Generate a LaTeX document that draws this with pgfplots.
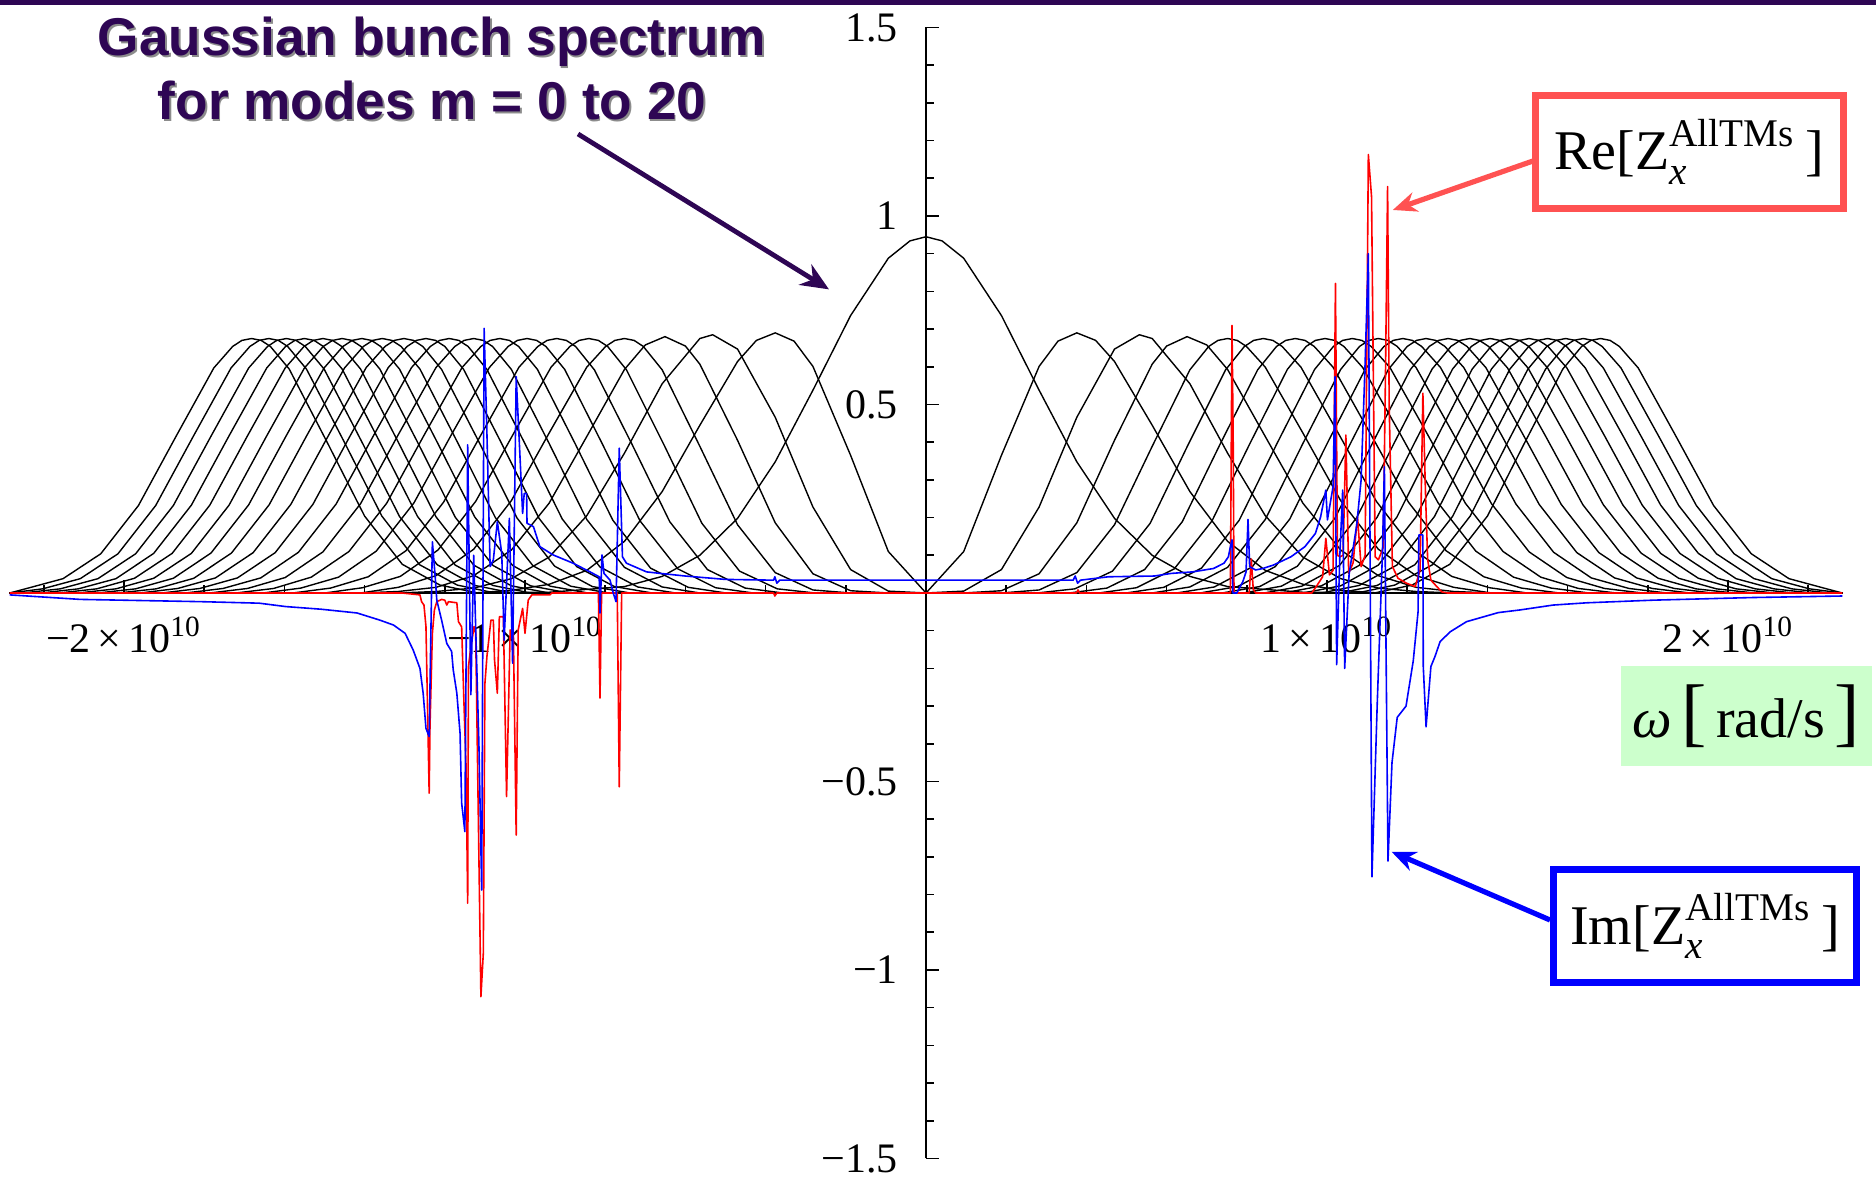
\documentclass[border=0pt]{standalone}
\usepackage{amsmath}
\usepackage{fontspec}
\setmainfont{Liberation Serif}
\newfontfamily\sansfam{Liberation Sans}
\usepackage{pgfplots}
\pgfplotsset{compat=1.18}
\usetikzlibrary{arrows.meta}
\definecolor{titlepurple}{RGB}{46,6,84}
\definecolor{boxred}{RGB}{255,82,82}
\definecolor{labelgreen}{RGB}{204,255,204}
\pgfplotsset{blk/.style={black, line width=0.35pt},
  rd/.style={color={rgb,255:red,255;green,0;blue,0}, line width=0.4pt},
  bl/.style={color={rgb,255:red,0;green,0;blue,255}, line width=0.4pt}}
\begin{document}
\begin{tikzpicture}
\path[use as bounding box] (0,0) rectangle (469pt,294.25pt);
\fill[titlepurple] (0,293.05pt) rectangle (469pt,294.25pt);
\begin{axis}[
  at={(2.43pt,4.625pt)}, anchor=south west,
  scale only axis, width=458.15pt, height=282.75pt,
  xmin=-2.285, xmax=2.285, ymin=-1.5, ymax=1.5,
  axis lines=middle, axis line style={-, line width=0.4pt},
  tick align=inside, major tick length=3.3pt, minor tick length=2pt,
  every tick/.style={black, line width=0.4pt},
  xtick={-2,-1,1,2},
  xticklabels={−2\,×\,10\textsuperscript{10}, −1\,×\,10\textsuperscript{10}, 1\,×\,10\textsuperscript{10}, 2\,×\,10\textsuperscript{10}},
  minor xtick={-2.2,-2.0,...,2.2},
  ytick={-1.5,-1,-0.5,0.5,1,1.5},
  yticklabels={−1.5,−1,−0.5,0.5,1,1.5},
  minor ytick={-1.4,-1.3,...,1.4},
  tick label style={font=\fontsize{10.5}{12}\selectfont},
  xticklabel style={anchor=north, yshift=-2.5pt},
  yticklabel style={anchor=east, xshift=-3.5pt},
  every axis plot/.append style={line join=round},
]
% mode 0
\addplot[blk] coordinates {(-2.285,0) (-1.128,0) (-0.940,.002) (-0.752,.017) (-0.658,.044) (-0.564,.100) (-0.470,.198) (-0.376,.348) (-0.282,.538) (-0.188,.736) (-0.094,.888) (-0.040,.934) (0,.945) (0.040,.934) (0.094,.888) (0.188,.736) (0.282,.538) (0.376,.348) (0.470,.198) (0.564,.100) (0.658,.044) (0.752,.017) (0.940,.002) (1.128,0) (2.285,0)};
% mode 1
\addplot[blk] coordinates {(-2.285,0) (-1.128,0) (-1.034,.007) (-0.940,.023) (-0.846,.060) (-0.752,.137) (-0.658,.269) (-0.564,.445) (-0.470,.614) (-0.423,.670) (-0.376,.690) (-0.329,.668) (-0.282,.601) (-0.188,.365) (-0.094,.110) (0,0) (0.094,.110) (0.188,.365) (0.282,.601) (0.329,.668) (0.376,.690) (0.423,.670) (0.470,.614) (0.564,.445) (0.658,.269) (0.752,.137) (0.846,.060) (0.940,.023) (1.034,.007) (1.128,0) (2.285,0)};
% mode 2
\addplot[blk] coordinates {(-2.285,0) (-1.316,0) (-1.222,.004) (-1.128,.013) (-1.034,.038) (-0.940,.095) (-0.846,.205) (-0.752,.371) (-0.658,.555) (-0.564,.675) (-0.532,.685) (-0.470,.647) (-0.376,.466) (-0.282,.228) (-0.188,.062) (-0.094,.005) (0,0) (0.094,.005) (0.188,.062) (0.282,.228) (0.376,.466) (0.470,.647) (0.532,.685) (0.564,.675) (0.658,.555) (0.752,.371) (0.846,.205) (0.940,.095) (1.034,.038) (1.128,.013) (1.222,.004) (1.316,0) (2.285,0)};
% mode 3
\addplot[blk] coordinates {(-2.285,0) (-1.410,0) (-1.316,.004) (-1.222,.015) (-1.128,.046) (-1.034,.114) (-0.940,.238) (-0.846,.415) (-0.752,.593) (-0.700,.658) (-0.651,.680) (-0.600,.655) (-0.564,.607) (-0.470,.405) (-0.376,.186) (-0.282,.051) (-0.188,.006) (-0.094,0) (0.094,0) (0.188,.006) (0.282,.051) (0.376,.186) (0.470,.405) (0.564,.607) (0.600,.655) (0.651,.680) (0.700,.658) (0.752,.593) (0.846,.415) (0.940,.238) (1.034,.114) (1.128,.046) (1.222,.015) (1.316,.004) (1.410,0) (2.285,0)};
% mode 4
\addplot[blk] coordinates {(-2.285,0) (-1.410,0) (-1.316,.015) (-1.222,.046) (-1.128,.116) (-1.034,.245) (-0.940,.424) (-0.846,.599) (-0.799,.654) (-0.776,.670) (-0.752,.675) (-0.728,.670) (-0.705,.654) (-0.658,.592) (-0.564,.389) (-0.470,.181) (-0.376,.054) (-0.282,.008) (-0.188,0) (0.188,0) (0.282,.008) (0.376,.054) (0.470,.181) (0.564,.389) (0.658,.592) (0.705,.654) (0.728,.670) (0.752,.675) (0.776,.670) (0.799,.654) (0.846,.599) (0.940,.424) (1.034,.245) (1.128,.116) (1.222,.046) (1.316,.015) (1.410,0) (2.285,0)};
% mode 5
\addplot[blk] coordinates {(-2.285,0) (-1.499,0) (-1.405,.014) (-1.311,.044) (-1.217,.114) (-1.123,.243) (-1.029,.422) (-0.935,.599) (-0.888,.654) (-0.865,.670) (-0.841,.675) (-0.817,.670) (-0.794,.654) (-0.747,.592) (-0.653,.392) (-0.559,.185) (-0.465,.058) (-0.371,.011) (-0.277,0) (0.277,0) (0.371,.011) (0.465,.058) (0.559,.185) (0.653,.392) (0.747,.592) (0.794,.654) (0.817,.670) (0.841,.675) (0.865,.670) (0.888,.654) (0.935,.599) (1.029,.422) (1.123,.243) (1.217,.114) (1.311,.044) (1.405,.014) (1.499,0) (2.285,0)};
% mode 6
\addplot[blk] coordinates {(-2.285,0) (-1.579,0) (-1.485,.013) (-1.391,.043) (-1.297,.112) (-1.203,.241) (-1.109,.421) (-1.015,.599) (-0.968,.654) (-0.945,.670) (-0.921,.675) (-0.897,.670) (-0.874,.654) (-0.827,.592) (-0.733,.394) (-0.639,.189) (-0.545,.062) (-0.451,.013) (-0.357,0) (0.357,0) (0.451,.013) (0.545,.062) (0.639,.189) (0.733,.394) (0.827,.592) (0.874,.654) (0.897,.670) (0.921,.675) (0.945,.670) (0.968,.654) (1.015,.599) (1.109,.421) (1.203,.241) (1.297,.112) (1.391,.043) (1.485,.013) (1.579,0) (2.285,0)};
% mode 7
\addplot[blk] coordinates {(-2.285,0) (-1.653,0) (-1.559,.013) (-1.465,.042) (-1.371,.111) (-1.277,.239) (-1.183,.421) (-1.089,.598) (-1.042,.654) (-1.019,.670) (-0.995,.675) (-0.971,.670) (-0.948,.654) (-0.901,.593) (-0.807,.395) (-0.713,.191) (-0.619,.064) (-0.525,.014) (-0.431,0) (0.431,0) (0.525,.014) (0.619,.064) (0.713,.191) (0.807,.395) (0.901,.593) (0.948,.654) (0.971,.670) (0.995,.675) (1.019,.670) (1.042,.654) (1.089,.598) (1.183,.421) (1.277,.239) (1.371,.111) (1.465,.042) (1.559,.013) (1.653,0) (2.285,0)};
% mode 8
\addplot[blk] coordinates {(-2.285,0) (-1.721,0) (-1.627,.012) (-1.533,.042) (-1.439,.110) (-1.345,.238) (-1.251,.420) (-1.157,.598) (-1.110,.654) (-1.087,.670) (-1.063,.675) (-1.039,.670) (-1.016,.654) (-0.969,.593) (-0.875,.396) (-0.781,.193) (-0.687,.066) (-0.593,.015) (-0.499,0) (0.499,0) (0.593,.015) (0.687,.066) (0.781,.193) (0.875,.396) (0.969,.593) (1.016,.654) (1.039,.670) (1.063,.675) (1.087,.670) (1.110,.654) (1.157,.598) (1.251,.420) (1.345,.238) (1.439,.110) (1.533,.042) (1.627,.012) (1.721,0) (2.285,0)};
% mode 9
\addplot[blk] coordinates {(-2.285,0) (-1.786,0) (-1.692,.012) (-1.598,.041) (-1.504,.109) (-1.410,.237) (-1.316,.420) (-1.222,.598) (-1.175,.654) (-1.152,.670) (-1.128,.675) (-1.104,.670) (-1.081,.654) (-1.034,.593) (-0.940,.397) (-0.846,.195) (-0.752,.068) (-0.658,.016) (-0.564,0) (0.564,0) (0.658,.016) (0.752,.068) (0.846,.195) (0.940,.397) (1.034,.593) (1.081,.654) (1.104,.670) (1.128,.675) (1.152,.670) (1.175,.654) (1.222,.598) (1.316,.420) (1.410,.237) (1.504,.109) (1.598,.041) (1.692,.012) (1.786,0) (2.285,0)};
% mode 10
\addplot[blk] coordinates {(-2.285,0) (-1.847,0) (-1.753,.012) (-1.659,.040) (-1.565,.108) (-1.471,.236) (-1.377,.419) (-1.283,.598) (-1.236,.654) (-1.213,.670) (-1.189,.675) (-1.165,.670) (-1.142,.654) (-1.095,.593) (-1.001,.398) (-0.907,.196) (-0.813,.069) (-0.719,.016) (-0.625,0) (0.625,0) (0.719,.016) (0.813,.069) (0.907,.196) (1.001,.398) (1.095,.593) (1.142,.654) (1.165,.670) (1.189,.675) (1.213,.670) (1.236,.654) (1.283,.598) (1.377,.419) (1.471,.236) (1.565,.108) (1.659,.040) (1.753,.012) (1.847,0) (2.285,0)};
% mode 11
\addplot[blk] coordinates {(-2.285,0) (-1.905,0) (-1.811,.012) (-1.717,.040) (-1.623,.107) (-1.529,.235) (-1.435,.419) (-1.341,.598) (-1.294,.654) (-1.271,.670) (-1.247,.675) (-1.223,.670) (-1.200,.654) (-1.153,.593) (-1.059,.398) (-0.965,.198) (-0.871,.070) (-0.777,.017) (-0.683,0) (0.683,0) (0.777,.017) (0.871,.070) (0.965,.198) (1.059,.398) (1.153,.593) (1.200,.654) (1.223,.670) (1.247,.675) (1.271,.670) (1.294,.654) (1.341,.598) (1.435,.419) (1.529,.235) (1.623,.107) (1.717,.040) (1.811,.012) (1.905,0) (2.285,0)};
% mode 12
\addplot[blk] coordinates {(-2.285,0) (-1.960,0) (-1.866,.012) (-1.772,.040) (-1.678,.107) (-1.584,.235) (-1.490,.418) (-1.396,.598) (-1.349,.654) (-1.326,.670) (-1.302,.675) (-1.278,.670) (-1.255,.654) (-1.208,.593) (-1.114,.399) (-1.020,.199) (-0.926,.071) (-0.832,.017) (-0.738,0) (0.738,0) (0.832,.017) (0.926,.071) (1.020,.199) (1.114,.399) (1.208,.593) (1.255,.654) (1.278,.670) (1.302,.675) (1.326,.670) (1.349,.654) (1.396,.598) (1.490,.418) (1.584,.235) (1.678,.107) (1.772,.040) (1.866,.012) (1.960,0) (2.285,0)};
% mode 13
\addplot[blk] coordinates {(-2.285,0) (-2.014,0) (-1.920,.011) (-1.826,.039) (-1.732,.106) (-1.638,.234) (-1.544,.418) (-1.450,.597) (-1.403,.654) (-1.380,.670) (-1.356,.675) (-1.332,.670) (-1.309,.654) (-1.262,.594) (-1.168,.399) (-1.074,.200) (-0.980,.072) (-0.886,.018) (-0.792,0) (0.792,0) (0.886,.018) (0.980,.072) (1.074,.200) (1.168,.399) (1.262,.594) (1.309,.654) (1.332,.670) (1.356,.675) (1.380,.670) (1.403,.654) (1.450,.597) (1.544,.418) (1.638,.234) (1.732,.106) (1.826,.039) (1.920,.011) (2.014,0) (2.285,0)};
% mode 14
\addplot[blk] coordinates {(-2.285,0) (-2.065,0) (-1.971,.011) (-1.877,.039) (-1.783,.106) (-1.689,.234) (-1.595,.418) (-1.501,.597) (-1.454,.654) (-1.431,.670) (-1.407,.675) (-1.383,.670) (-1.360,.654) (-1.313,.594) (-1.219,.400) (-1.125,.201) (-1.031,.073) (-0.937,.018) (-0.843,0) (0.843,0) (0.937,.018) (1.031,.073) (1.125,.201) (1.219,.400) (1.313,.594) (1.360,.654) (1.383,.670) (1.407,.675) (1.431,.670) (1.454,.654) (1.501,.597) (1.595,.418) (1.689,.234) (1.783,.106) (1.877,.039) (1.971,.011) (2.065,0) (2.285,0)};
% mode 15
\addplot[blk] coordinates {(-2.285,0) (-2.114,0) (-2.020,.011) (-1.926,.039) (-1.832,.105) (-1.738,.233) (-1.644,.417) (-1.550,.597) (-1.503,.654) (-1.480,.670) (-1.456,.675) (-1.432,.670) (-1.409,.654) (-1.362,.594) (-1.268,.400) (-1.174,.201) (-1.080,.073) (-0.986,.019) (-0.892,0) (0.892,0) (0.986,.019) (1.080,.073) (1.174,.201) (1.268,.400) (1.362,.594) (1.409,.654) (1.432,.670) (1.456,.675) (1.480,.670) (1.503,.654) (1.550,.597) (1.644,.417) (1.738,.233) (1.832,.105) (1.926,.039) (2.020,.011) (2.114,0) (2.285,0)};
% mode 16
\addplot[blk] coordinates {(-2.285,0) (-2.162,0) (-2.068,.011) (-1.974,.039) (-1.880,.105) (-1.786,.233) (-1.692,.417) (-1.598,.597) (-1.551,.654) (-1.528,.670) (-1.504,.675) (-1.480,.670) (-1.457,.654) (-1.410,.594) (-1.316,.400) (-1.222,.202) (-1.128,.074) (-1.034,.019) (-0.940,0) (0.940,0) (1.034,.019) (1.128,.074) (1.222,.202) (1.316,.400) (1.410,.594) (1.457,.654) (1.480,.670) (1.504,.675) (1.528,.670) (1.551,.654) (1.598,.597) (1.692,.417) (1.786,.233) (1.880,.105) (1.974,.039) (2.068,.011) (2.162,0) (2.285,0)};
% mode 17
\addplot[blk] coordinates {(-2.285,0) (-2.208,0) (-2.114,.011) (-2.020,.038) (-1.926,.105) (-1.832,.233) (-1.738,.417) (-1.644,.597) (-1.597,.654) (-1.574,.670) (-1.550,.675) (-1.526,.670) (-1.503,.654) (-1.456,.594) (-1.362,.400) (-1.268,.203) (-1.174,.074) (-1.080,.020) (-0.986,0) (0.986,0) (1.080,.020) (1.174,.074) (1.268,.203) (1.362,.400) (1.456,.594) (1.503,.654) (1.526,.670) (1.550,.675) (1.574,.670) (1.597,.654) (1.644,.597) (1.738,.417) (1.832,.233) (1.926,.105) (2.020,.038) (2.114,.011) (2.208,0) (2.285,0)};
% mode 18
\addplot[blk] coordinates {(-2.285,0) (-2.253,0) (-2.159,.011) (-2.065,.038) (-1.971,.104) (-1.877,.232) (-1.783,.416) (-1.689,.597) (-1.642,.654) (-1.619,.670) (-1.595,.675) (-1.571,.670) (-1.548,.654) (-1.501,.594) (-1.407,.401) (-1.313,.203) (-1.219,.075) (-1.125,.020) (-1.031,0) (1.031,0) (1.125,.020) (1.219,.075) (1.313,.203) (1.407,.401) (1.501,.594) (1.548,.654) (1.571,.670) (1.595,.675) (1.619,.670) (1.642,.654) (1.689,.597) (1.783,.416) (1.877,.232) (1.971,.104) (2.065,.038) (2.159,.011) (2.253,0) (2.285,0)};
% mode 19
\addplot[blk] coordinates {(-2.285,0) (-2.203,.011) (-2.109,.038) (-2.015,.104) (-1.921,.232) (-1.827,.416) (-1.733,.597) (-1.686,.654) (-1.663,.670) (-1.639,.675) (-1.615,.670) (-1.592,.654) (-1.545,.594) (-1.451,.401) (-1.357,.204) (-1.263,.075) (-1.169,.021) (-1.075,0) (1.075,0) (1.169,.021) (1.263,.075) (1.357,.204) (1.451,.401) (1.545,.594) (1.592,.654) (1.615,.670) (1.639,.675) (1.663,.670) (1.686,.654) (1.733,.597) (1.827,.416) (1.921,.232) (2.015,.104) (2.109,.038) (2.203,.011) (2.285,0)};
% mode 20
\addplot[blk] coordinates {(-2.285,0) (-2.246,.011) (-2.152,.038) (-2.058,.104) (-1.964,.232) (-1.870,.416) (-1.776,.597) (-1.729,.654) (-1.706,.670) (-1.682,.675) (-1.658,.670) (-1.635,.654) (-1.588,.594) (-1.494,.401) (-1.400,.204) (-1.306,.076) (-1.212,.021) (-1.118,0) (1.118,0) (1.212,.021) (1.306,.076) (1.400,.204) (1.494,.401) (1.588,.594) (1.635,.654) (1.658,.670) (1.682,.675) (1.706,.670) (1.729,.654) (1.776,.597) (1.870,.416) (1.964,.232) (2.058,.104) (2.152,.038) (2.246,.011) (2.285,0)};
% Re[Z]
\addplot[rd] coordinates {(-2.285,0) (-1.307,0) (-1.262,-0.005) (-1.258,-0.023) (-1.252,-0.032) (-1.247,-0.089) (-1.239,-0.531) (-1.237,-0.355) (-1.231,-0.107) (-1.226,-0.045) (-1.220,-0.023) (-1.208,-0.017) (-1.200,-0.019) (-1.195,-0.032) (-1.191,-0.023) (-1.170,-0.026) (-1.166,-0.076) (-1.158,-0.090) (-1.152,-0.300) (-1.147,-0.461) (-1.143,-0.823) (-1.141,-0.195) (-1.136,-0.151) (-1.127,-0.089) (-1.123,-0.107) (-1.110,-1.071) (-1.104,-0.956) (-1.100,-0.240) (-1.095,-0.169) (-1.085,-0.072) (-1.079,-0.072) (-1.076,-0.178) (-1.069,-0.266) (-1.064,-0.063) (-1.054,-0.063) (-1.046,-0.540) (-1.037,-0.098) (-1.029,-0.107) (-1.022,-0.642) (-1.017,-0.098) (-1.006,-0.041) (-1.000,-0.107) (-0.992,-0.019) (-0.983,-0.005) (-0.938,-0.005) (-0.933,0) (-0.817,0) (-0.813,-0.279) (-0.809,0) (-0.770,0) (-0.765,-0.514) (-0.759,0) (-0.380,0) (-0.377,-0.008) (-0.372,0) (0.375,0) (0.379,0.008) (0.383,0) (0.759,0) (0.763,0.710) (0.766,0.400) (0.768,0) (0.806,0) (0.811,0.090) (0.816,0.010) (0.822,0) (0.962,0) (0.975,0.020) (0.989,0.043) (0.997,0.145) (1.006,0.048) (1.015,0.060) (1.021,0.821) (1.026,0.100) (1.032,0.096) (1.040,0.100) (1.047,0.419) (1.054,0.052) (1.065,0.080) (1.076,0.202) (1.085,0.070) (1.095,0.100) (1.103,1.163) (1.111,1.051) (1.120,0.096) (1.128,0.088) (1.140,0.120) (1.146,0.600) (1.151,1.078) (1.155,0.500) (1.163,0.070) (1.177,0.039) (1.198,0.026) (1.220,0.017) (1.232,0.061) (1.239,0.530) (1.246,0.247) (1.251,0.088) (1.259,0.034) (1.286,0.003) (1.300,0) (2.285,0)};
% Im[Z]
\addplot[bl] coordinates {(-2.285,-0.005) (-2.109,-0.017) (-1.808,-0.023) (-1.663,-0.027) (-1.597,-0.036) (-1.509,-0.043) (-1.419,-0.053) (-1.362,-0.072) (-1.328,-0.085) (-1.299,-0.107) (-1.279,-0.151) (-1.262,-0.200) (-1.254,-0.266) (-1.247,-0.359) (-1.239,-0.381) (-1.231,0.136) (-1.224,0.043) (-1.220,-0.019) (-1.208,-0.072) (-1.195,-0.134) (-1.183,-0.155) (-1.179,-0.204) (-1.170,-0.266) (-1.162,-0.372) (-1.158,-0.557) (-1.150,-0.633) (-1.143,0.393) (-1.135,-0.270) (-1.128,0.100) (-1.115,-0.400) (-1.108,-0.788) (-1.102,0.702) (-1.095,0.424) (-1.087,0.070) (-1.079,0.088) (-1.069,0.189) (-1.058,0.105) (-1.052,-0.125) (-1.039,0.198) (-1.031,-0.186) (-1.022,0.574) (-1.012,0.350) (-1.006,0.211) (-1.002,0.264) (-0.996,0.264) (-0.995,0.185) (-0.979,0.176) (-0.963,0.123) (-0.930,0.101) (-0.880,0.079) (-0.838,0.056) (-0.815,0.043) (-0.813,-0.053) (-0.808,0.101) (-0.803,0.052) (-0.788,0.034) (-0.780,0) (-0.773,-0.023) (-0.765,0.384) (-0.757,0.096) (-0.747,0.079) (-0.697,0.056) (-0.663,0.052) (-0.600,0.045) (-0.500,0.036) (-0.380,0.034) (-0.377,0.043) (-0.372,0.026) (-0.365,0.034) (0.367,0.034) (0.372,0.045) (0.378,0.026) (0.385,0.034) (0.455,0.043) (0.569,0.045) (0.612,0.052) (0.665,0.056) (0.717,0.065) (0.743,0.079) (0.754,0.096) (0.759,0.123) (0.763,0.141) (0.765,0) (0.775,0) (0.790,0.030) (0.798,0.056) (0.803,0.195) (0.807,0.070) (0.822,0.061) (0.840,0.065) (0.866,0.074) (0.910,0.096) (0.945,0.123) (0.971,0.158) (0.984,0.202) (0.997,0.273) (1.001,0.194) (1.015,0.282) (1.020,0.574) (1.024,-0.190) (1.032,0.100) (1.039,0.273) (1.044,-0.200) (1.055,0.050) (1.074,0.180) (1.085,0.300) (1.095,0.610) (1.103,0.900) (1.112,-0.753) (1.125,-0.300) (1.138,0.100) (1.143,0.335) (1.152,-0.711) (1.162,-0.450) (1.175,-0.330) (1.197,-0.300) (1.215,-0.180) (1.227,-0.050) (1.229,0.154) (1.239,0.154) (1.240,-0.195) (1.247,-0.355) (1.253,-0.275) (1.259,-0.195) (1.269,-0.169) (1.282,-0.129) (1.307,-0.103) (1.348,-0.076) (1.427,-0.052) (1.481,-0.045) (1.564,-0.032) (1.648,-0.026) (1.814,-0.019) (2.063,-0.012) (2.285,-0.008)};
\end{axis}
% title with shadow
\node[anchor=base, inner sep=0, text=black!45, font=\sansfam\bfseries\fontsize{13.3}{16}\selectfont] at (108.45pt,279.8pt) {Gaussian bunch spectrum};
\node[anchor=base, inner sep=0, text=titlepurple, font=\sansfam\bfseries\fontsize{13.3}{16}\selectfont] at (108pt,280.25pt) {Gaussian bunch spectrum};
\node[anchor=base, inner sep=0, text=black!45, font=\sansfam\bfseries\fontsize{13.3}{16}\selectfont] at (108.45pt,263.8pt) {for modes m = 0 to 20};
\node[anchor=base, inner sep=0, text=titlepurple, font=\sansfam\bfseries\fontsize{13.3}{16}\selectfont] at (108pt,264.25pt) {for modes m = 0 to 20};
\draw[titlepurple, line width=1.2pt, -{Stealth[length=7pt,width=6pt]}] (144.5pt,260.75pt) -- (207.25pt,221.9pt);
% Re box
\draw[boxred, line width=1.3pt, -{Stealth[length=6pt,width=5pt]}] (383.25pt,254pt) -- (348.2pt,241.75pt);
\node[draw=boxred, line width=1.75pt, fill=white, minimum width=77pt, minimum height=28.25pt, inner sep=0, font=\fontsize{14}{16}\selectfont] at (422.3pt,256.3pt) {$\text{Re[Z}_{\textit{x}}^{\text{AllTMs}}\,\text{]}$};
% Im box
\draw[blue, line width=1.3pt, -{Stealth[length=6pt,width=5pt]}] (387.5pt,64.25pt) -- (347.9pt,81.3pt);
\node[draw=blue, line width=1.8pt, fill=white, minimum width=75.7pt, minimum height=28.2pt, inner sep=0, font=\fontsize{14}{16}\selectfont] at (426.25pt,62.75pt) {$\text{Im[Z}_{\textit{x}}^{\text{AllTMs}}\,\text{]}$};
% axis label
\node[fill=labelgreen, minimum width=62.75pt, minimum height=25.2pt, inner sep=0, font=\fontsize{14}{16}\selectfont] at (436.5pt,115.25pt) {\textit{ω}\,{\fontsize{19}{19}\selectfont[}\,rad/s\,{\fontsize{19}{19}\selectfont]}};
\end{tikzpicture}
\end{document}
